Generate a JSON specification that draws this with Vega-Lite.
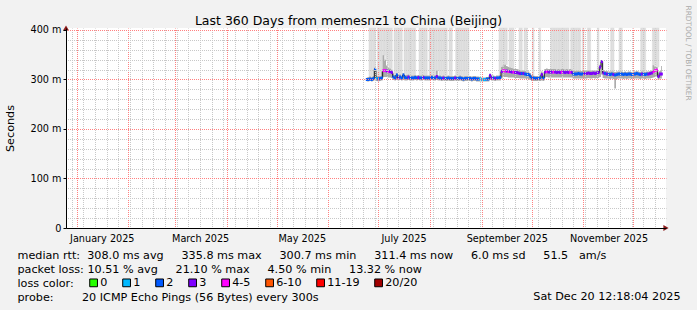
{
"$schema": "https://vega.github.io/schema/vega-lite/v6.json",
"width": 600, "height": 200,
"autosize": {"type": "none"},
"padding": {"left": 66, "top": 28, "right": 31, "bottom": 82},
"background": "#f2f2f2",
"view": {"fill": "#ffffff", "stroke": null},
"config": {
  "font": "DejaVu Sans",
  "axis": {"labelFont": "DejaVu Sans", "titleFont": "DejaVu Sans", "labelColor": "#000000", "titleColor": "#000000", "titleFontWeight": "normal", "labelFontSize": 9.7, "labelOverlap": false, "labelFlush": false},
  "legend": {"labelFont": "DejaVu Sans", "titleFont": "DejaVu Sans"}
},
"resolve": {"axis": {"x": "independent", "y": "independent"}},
"datasets": {"rrd": [
{"t":"2025-06-24","m":300,"lo":296,"hi":304,"l":"2","g":0},
{"t":"2025-06-25","m":300,"lo":296,"hi":305,"l":"2","g":1},
{"t":"2025-06-26","m":301,"lo":297,"hi":306,"l":"2","g":1},
{"t":"2025-06-27","m":300,"lo":296,"hi":305,"l":"2","g":1},
{"t":"2025-06-28","m":302,"lo":297,"hi":307,"l":"2","g":1},
{"t":"2025-06-29","m":320,"lo":300,"hi":324,"l":"2","g":0},
{"t":"2025-06-30","m":302,"lo":297,"hi":307,"l":"1","g":1},
{"t":"2025-07-01","m":301,"lo":296,"hi":306,"l":"2","g":1},
{"t":"2025-07-02","m":302,"lo":297,"hi":307,"l":"2","g":1},
{"t":"2025-07-03","m":303,"lo":298,"hi":316,"l":"2","g":1},
{"t":"2025-07-04","m":318,"lo":305,"hi":349,"l":"4-5","g":1},
{"t":"2025-07-05","m":318,"lo":305,"hi":340,"l":"4-5","g":1},
{"t":"2025-07-06","m":317,"lo":305,"hi":328,"l":"3","g":1},
{"t":"2025-07-07","m":316,"lo":304,"hi":324,"l":"4-5","g":1},
{"t":"2025-07-08","m":316,"lo":304,"hi":322,"l":"3","g":1},
{"t":"2025-07-09","m":314,"lo":303,"hi":320,"l":"3","g":0},
{"t":"2025-07-10","m":305,"lo":299,"hi":312,"l":"2","g":1},
{"t":"2025-07-11","m":303,"lo":298,"hi":309,"l":"2","g":1},
{"t":"2025-07-12","m":309,"lo":300,"hi":313,"l":"2","g":1},
{"t":"2025-07-13","m":303,"lo":298,"hi":309,"l":"3","g":1},
{"t":"2025-07-14","m":305,"lo":299,"hi":310,"l":"2","g":1},
{"t":"2025-07-15","m":303,"lo":298,"hi":308,"l":"2","g":0},
{"t":"2025-07-16","m":309,"lo":299,"hi":313,"l":"2","g":1},
{"t":"2025-07-17","m":304,"lo":298,"hi":309,"l":"2","g":1},
{"t":"2025-07-18","m":303,"lo":298,"hi":309,"l":"2","g":1},
{"t":"2025-07-19","m":305,"lo":299,"hi":310,"l":"3","g":1},
{"t":"2025-07-20","m":303,"lo":298,"hi":308,"l":"2","g":1},
{"t":"2025-07-21","m":303,"lo":298,"hi":308,"l":"2","g":1},
{"t":"2025-07-22","m":303,"lo":298,"hi":308,"l":"2","g":1},
{"t":"2025-07-23","m":304,"lo":299,"hi":309,"l":"2","g":0},
{"t":"2025-07-24","m":303,"lo":298,"hi":308,"l":"2","g":0},
{"t":"2025-07-25","m":304,"lo":299,"hi":309,"l":"3","g":1},
{"t":"2025-07-26","m":303,"lo":298,"hi":308,"l":"2","g":1},
{"t":"2025-07-27","m":303,"lo":298,"hi":308,"l":"2","g":1},
{"t":"2025-07-28","m":304,"lo":299,"hi":309,"l":"3","g":1},
{"t":"2025-07-29","m":303,"lo":298,"hi":308,"l":"2","g":1},
{"t":"2025-07-30","m":303,"lo":298,"hi":308,"l":"2","g":0},
{"t":"2025-07-31","m":303,"lo":298,"hi":308,"l":"2","g":1},
{"t":"2025-08-01","m":303,"lo":298,"hi":308,"l":"2","g":1},
{"t":"2025-08-02","m":304,"lo":299,"hi":309,"l":"2","g":1},
{"t":"2025-08-03","m":303,"lo":298,"hi":308,"l":"2","g":1},
{"t":"2025-08-04","m":303,"lo":298,"hi":308,"l":"2","g":1},
{"t":"2025-08-05","m":306,"lo":299,"hi":318,"l":"3","g":1},
{"t":"2025-08-06","m":303,"lo":298,"hi":308,"l":"2","g":1},
{"t":"2025-08-07","m":303,"lo":298,"hi":308,"l":"2","g":1},
{"t":"2025-08-08","m":302,"lo":297,"hi":307,"l":"2","g":1},
{"t":"2025-08-09","m":303,"lo":298,"hi":308,"l":"3","g":1},
{"t":"2025-08-10","m":302,"lo":297,"hi":307,"l":"2","g":1},
{"t":"2025-08-11","m":302,"lo":297,"hi":307,"l":"2","g":0},
{"t":"2025-08-12","m":303,"lo":298,"hi":308,"l":"2","g":1},
{"t":"2025-08-13","m":302,"lo":297,"hi":307,"l":"2","g":1},
{"t":"2025-08-14","m":302,"lo":297,"hi":307,"l":"2","g":0},
{"t":"2025-08-15","m":302,"lo":297,"hi":307,"l":"2","g":0},
{"t":"2025-08-16","m":303,"lo":298,"hi":308,"l":"3","g":1},
{"t":"2025-08-17","m":302,"lo":297,"hi":307,"l":"2","g":1},
{"t":"2025-08-18","m":302,"lo":297,"hi":307,"l":"2","g":1},
{"t":"2025-08-19","m":303,"lo":298,"hi":308,"l":"2","g":1},
{"t":"2025-08-20","m":302,"lo":297,"hi":307,"l":"2","g":1},
{"t":"2025-08-21","m":301,"lo":296,"hi":306,"l":"2","g":1},
{"t":"2025-08-22","m":302,"lo":297,"hi":307,"l":"2","g":1},
{"t":"2025-08-23","m":302,"lo":297,"hi":307,"l":"2","g":1},
{"t":"2025-08-24","m":302,"lo":297,"hi":307,"l":"2","g":0},
{"t":"2025-08-25","m":302,"lo":297,"hi":307,"l":"2","g":0},
{"t":"2025-08-26","m":301,"lo":296,"hi":306,"l":"2","g":0},
{"t":"2025-08-27","m":302,"lo":297,"hi":307,"l":"2","g":0},
{"t":"2025-08-28","m":302,"lo":297,"hi":307,"l":"2","g":0},
{"t":"2025-08-29","m":301,"lo":296,"hi":306,"l":"2","g":0},
{"t":"2025-08-30","m":301,"lo":296,"hi":306,"l":"2","g":0},
{"t":"2025-08-31","m":301,"lo":296,"hi":305,"l":"1","g":0},
{"t":"2025-09-01","m":300,"lo":296,"hi":304,"l":"1","g":0},
{"t":"2025-09-02","m":300,"lo":296,"hi":304,"l":"1","g":0},
{"t":"2025-09-03","m":300,"lo":296,"hi":304,"l":"1","g":0},
{"t":"2025-09-04","m":301,"lo":296,"hi":305,"l":"2","g":0},
{"t":"2025-09-05","m":301,"lo":296,"hi":305,"l":"2","g":0},
{"t":"2025-09-06","m":308,"lo":299,"hi":312,"l":"3","g":0},
{"t":"2025-09-07","m":303,"lo":298,"hi":308,"l":"3","g":0},
{"t":"2025-09-08","m":303,"lo":298,"hi":308,"l":"2","g":0},
{"t":"2025-09-09","m":302,"lo":297,"hi":307,"l":"3","g":0},
{"t":"2025-09-10","m":303,"lo":298,"hi":308,"l":"2","g":0},
{"t":"2025-09-11","m":303,"lo":298,"hi":308,"l":"2","g":1},
{"t":"2025-09-12","m":304,"lo":298,"hi":309,"l":"2","g":1},
{"t":"2025-09-13","m":316,"lo":302,"hi":325,"l":"3","g":1},
{"t":"2025-09-14","m":318,"lo":305,"hi":328,"l":"4-5","g":1},
{"t":"2025-09-15","m":317,"lo":305,"hi":330,"l":"4-5","g":1},
{"t":"2025-09-16","m":317,"lo":305,"hi":327,"l":"3","g":0},
{"t":"2025-09-17","m":316,"lo":304,"hi":325,"l":"4-5","g":1},
{"t":"2025-09-18","m":316,"lo":304,"hi":324,"l":"3","g":1},
{"t":"2025-09-19","m":315,"lo":304,"hi":323,"l":"3","g":1},
{"t":"2025-09-20","m":315,"lo":304,"hi":322,"l":"4-5","g":0},
{"t":"2025-09-21","m":314,"lo":303,"hi":321,"l":"3","g":0},
{"t":"2025-09-22","m":314,"lo":303,"hi":321,"l":"3","g":0},
{"t":"2025-09-23","m":313,"lo":303,"hi":320,"l":"3","g":1},
{"t":"2025-09-24","m":312,"lo":302,"hi":319,"l":"3","g":1},
{"t":"2025-09-25","m":312,"lo":302,"hi":318,"l":"2","g":0},
{"t":"2025-09-26","m":312,"lo":302,"hi":318,"l":"3","g":1},
{"t":"2025-09-27","m":311,"lo":302,"hi":317,"l":"2","g":1},
{"t":"2025-09-28","m":310,"lo":301,"hi":316,"l":"2","g":0},
{"t":"2025-09-29","m":310,"lo":301,"hi":316,"l":"2","g":0},
{"t":"2025-09-30","m":307,"lo":299,"hi":313,"l":"2","g":0},
{"t":"2025-10-01","m":303,"lo":297,"hi":309,"l":"2","g":1},
{"t":"2025-10-02","m":303,"lo":297,"hi":308,"l":"2","g":0},
{"t":"2025-10-03","m":302,"lo":297,"hi":307,"l":"2","g":0},
{"t":"2025-10-04","m":302,"lo":297,"hi":307,"l":"2","g":0},
{"t":"2025-10-05","m":302,"lo":297,"hi":307,"l":"2","g":1},
{"t":"2025-10-06","m":303,"lo":297,"hi":308,"l":"2","g":0},
{"t":"2025-10-07","m":310,"lo":298,"hi":316,"l":"3","g":0},
{"t":"2025-10-08","m":303,"lo":297,"hi":308,"l":"2","g":0},
{"t":"2025-10-09","m":315,"lo":304,"hi":321,"l":"3","g":0},
{"t":"2025-10-10","m":316,"lo":305,"hi":322,"l":"4-5","g":0},
{"t":"2025-10-11","m":315,"lo":304,"hi":321,"l":"3","g":0},
{"t":"2025-10-12","m":315,"lo":304,"hi":321,"l":"3","g":1},
{"t":"2025-10-13","m":315,"lo":304,"hi":321,"l":"3","g":1},
{"t":"2025-10-14","m":315,"lo":304,"hi":321,"l":"4-5","g":1},
{"t":"2025-10-15","m":315,"lo":304,"hi":321,"l":"3","g":1},
{"t":"2025-10-16","m":314,"lo":304,"hi":320,"l":"3","g":1},
{"t":"2025-10-17","m":315,"lo":304,"hi":321,"l":"3","g":1},
{"t":"2025-10-18","m":314,"lo":304,"hi":320,"l":"3","g":1},
{"t":"2025-10-19","m":315,"lo":304,"hi":321,"l":"4-5","g":1},
{"t":"2025-10-20","m":315,"lo":304,"hi":321,"l":"3","g":1},
{"t":"2025-10-21","m":314,"lo":304,"hi":320,"l":"3","g":1},
{"t":"2025-10-22","m":315,"lo":304,"hi":321,"l":"3","g":1},
{"t":"2025-10-23","m":314,"lo":304,"hi":320,"l":"3","g":0},
{"t":"2025-10-24","m":315,"lo":304,"hi":321,"l":"4-5","g":1},
{"t":"2025-10-25","m":314,"lo":304,"hi":320,"l":"3","g":1},
{"t":"2025-10-26","m":311,"lo":302,"hi":317,"l":"2","g":1},
{"t":"2025-10-27","m":311,"lo":302,"hi":317,"l":"2","g":1},
{"t":"2025-10-28","m":311,"lo":302,"hi":317,"l":"2","g":1},
{"t":"2025-10-29","m":312,"lo":302,"hi":318,"l":"2","g":1},
{"t":"2025-10-30","m":311,"lo":302,"hi":317,"l":"2","g":0},
{"t":"2025-10-31","m":311,"lo":302,"hi":317,"l":"2","g":1},
{"t":"2025-11-01","m":312,"lo":302,"hi":318,"l":"2","g":0},
{"t":"2025-11-02","m":312,"lo":302,"hi":318,"l":"3","g":0},
{"t":"2025-11-03","m":312,"lo":302,"hi":318,"l":"3","g":1},
{"t":"2025-11-04","m":313,"lo":303,"hi":318,"l":"3","g":1},
{"t":"2025-11-05","m":312,"lo":302,"hi":318,"l":"3","g":0},
{"t":"2025-11-06","m":312,"lo":302,"hi":318,"l":"3","g":0},
{"t":"2025-11-07","m":313,"lo":303,"hi":318,"l":"3","g":0},
{"t":"2025-11-08","m":312,"lo":302,"hi":318,"l":"3","g":0},
{"t":"2025-11-09","m":313,"lo":303,"hi":318,"l":"3","g":1},
{"t":"2025-11-10","m":314,"lo":303,"hi":319,"l":"3","g":0},
{"t":"2025-11-11","m":325,"lo":305,"hi":330,"l":"3","g":0},
{"t":"2025-11-12","m":336,"lo":310,"hi":339,"l":"3","g":0},
{"t":"2025-11-13","m":313,"lo":303,"hi":318,"l":"3","g":0},
{"t":"2025-11-14","m":312,"lo":302,"hi":317,"l":"2","g":0},
{"t":"2025-11-15","m":311,"lo":302,"hi":317,"l":"3","g":0},
{"t":"2025-11-16","m":311,"lo":302,"hi":316,"l":"2","g":0},
{"t":"2025-11-17","m":310,"lo":301,"hi":316,"l":"2","g":1},
{"t":"2025-11-18","m":311,"lo":302,"hi":316,"l":"2","g":1},
{"t":"2025-11-19","m":310,"lo":301,"hi":316,"l":"3","g":0},
{"t":"2025-11-20","m":309,"lo":282,"hi":315,"l":"2","g":0},
{"t":"2025-11-21","m":310,"lo":301,"hi":316,"l":"2","g":0},
{"t":"2025-11-22","m":311,"lo":302,"hi":316,"l":"2","g":1},
{"t":"2025-11-23","m":311,"lo":302,"hi":316,"l":"2","g":1},
{"t":"2025-11-24","m":311,"lo":302,"hi":316,"l":"2","g":0},
{"t":"2025-11-25","m":310,"lo":301,"hi":315,"l":"2","g":0},
{"t":"2025-11-26","m":311,"lo":302,"hi":316,"l":"2","g":0},
{"t":"2025-11-27","m":310,"lo":301,"hi":315,"l":"2","g":0},
{"t":"2025-11-28","m":311,"lo":302,"hi":316,"l":"2","g":0},
{"t":"2025-11-29","m":311,"lo":302,"hi":316,"l":"2","g":0},
{"t":"2025-11-30","m":310,"lo":301,"hi":315,"l":"2","g":0},
{"t":"2025-12-01","m":311,"lo":302,"hi":316,"l":"2","g":0},
{"t":"2025-12-02","m":311,"lo":302,"hi":316,"l":"2","g":0},
{"t":"2025-12-03","m":312,"lo":302,"hi":317,"l":"2","g":0},
{"t":"2025-12-04","m":311,"lo":302,"hi":316,"l":"2","g":0},
{"t":"2025-12-05","m":310,"lo":301,"hi":315,"l":"2","g":1},
{"t":"2025-12-06","m":311,"lo":302,"hi":316,"l":"3","g":1},
{"t":"2025-12-07","m":311,"lo":302,"hi":316,"l":"2","g":1},
{"t":"2025-12-08","m":310,"lo":301,"hi":315,"l":"2","g":0},
{"t":"2025-12-09","m":311,"lo":302,"hi":316,"l":"2","g":0},
{"t":"2025-12-10","m":311,"lo":302,"hi":316,"l":"3","g":0},
{"t":"2025-12-11","m":312,"lo":302,"hi":317,"l":"3","g":0},
{"t":"2025-12-12","m":313,"lo":303,"hi":318,"l":"3","g":1},
{"t":"2025-12-13","m":316,"lo":304,"hi":329,"l":"4-5","g":1},
{"t":"2025-12-14","m":318,"lo":305,"hi":326,"l":"4-5","g":1},
{"t":"2025-12-15","m":319,"lo":306,"hi":325,"l":"4-5","g":1},
{"t":"2025-12-16","m":306,"lo":299,"hi":314,"l":"3","g":0},
{"t":"2025-12-17","m":311,"lo":302,"hi":317,"l":"3","g":0},
{"t":"2025-12-18","m":311,"lo":302,"hi":327,"l":"3","g":0}
]},
"data": {"name": "rrd"},
"layer": [
  {
    "transform": [{"filter": "datum.g == 1"}],
    "mark": {"type": "rect", "color": "#dddddd", "stroke": "#dddddd", "strokeWidth": 0.5},
    "encoding": {
      "x": {"field": "t", "type": "temporal", "timeUnit": "yearmonthdate",
            "scale": {"domain": [{"year": 2024, "month": 12, "date": 25, "hours": 12, "minutes": 18, "seconds": 4}, {"year": 2025, "month": 12, "date": 20, "hours": 12, "minutes": 18, "seconds": 4}], "nice": false},
            "axis": {"orient": "bottom", "tickCount": {"interval": "week", "step": 1}, "grid": true, "gridColor": "#c8c8c8", "gridDash": [1, 1], "gridDashOffset": 0.5, "labels": false, "ticks": false, "domain": false, "zindex": 1,
                     "title": "Sat Dec 20 12:18:04 2025", "titleX": 614, "titleY": 71, "titleAlign": "right", "titleAnchor": "end", "titleBaseline": "alphabetic", "titleFontSize": 11.2}},
      "y": {"field": "hi", "type": "quantitative", "scale": {"domain": [0, 404], "nice": false, "zero": true},
            "axis": {"orient": "left", "values": [20, 40, 60, 80, 120, 140, 160, 180, 220, 240, 260, 280, 320, 340, 360, 380], "grid": true, "gridColor": "#c8c8c8", "gridDash": [1, 1], "gridDashOffset": 0.5, "labels": false, "ticks": false, "domain": false, "title": null, "zindex": 1}},
      "y2": {"datum": 404}
    }
  },
  {
    "mark": {"type": "area", "color": "#ababab", "interpolate": "step", "opacity": 1},
    "encoding": {
      "x": {"field": "t", "type": "temporal",
            "axis": {"orient": "bottom", "tickCount": {"interval": "month", "step": 1}, "grid": true, "gridColor": "#ff8080", "gridDash": [1, 1], "gridDashOffset": 0.5, "labels": false, "ticks": false, "domain": false, "title": null, "zindex": 1}},
      "y": {"field": "lo", "type": "quantitative",
            "axis": {"orient": "left", "values": [100, 200, 300, 400], "grid": true, "gridColor": "#ff8080", "gridDash": [1, 1], "gridDashOffset": 0.5, "labels": false, "ticks": false, "domain": false, "title": null, "zindex": 1}},
      "y2": {"field": "hi"}
    }
  },
  {
    "mark": {"type": "line", "color": "#1a1a1a", "strokeWidth": 1, "interpolate": "step"},
    "encoding": {
      "x": {"field": "t", "type": "temporal",
            "axis": {"orient": "bottom", "values": [{"year": 2025, "month": 1, "date": 16}, {"year": 2025, "month": 3, "date": 16}, {"year": 2025, "month": 5, "date": 16}, {"year": 2025, "month": 7, "date": 16}, {"year": 2025, "month": 9, "date": 16}, {"year": 2025, "month": 11, "date": 16}],
                     "format": "%B %Y", "formatType": "time", "grid": false, "ticks": false, "domain": true, "domainColor": "#000000", "domainWidth": 1,
                     "labelPadding": 5, "labelFontSize": 9.7, "zindex": 1,
                     "title": ["median rtt:\u00a0\u00a0308.0 ms avg\u00a0\u00a0\u00a0\u00a0\u00a0335.8 ms max\u00a0\u00a0\u00a0\u00a0\u00a0300.7 ms min\u00a0\u00a0\u00a0\u00a0\u00a0311.4 ms now\u00a0\u00a0\u00a0\u00a0\u00a06.0 ms sd\u00a0\u00a0\u00a0\u00a0\u00a051.5\u00a0\u00a0\u00a0am/s",
                               "packet loss:\u00a010.51 % avg\u00a0\u00a0\u00a0\u00a0\u00a021.10 % max\u00a0\u00a0\u00a0\u00a0\u00a04.50 % min\u00a0\u00a0\u00a0\u00a0\u00a013.32 % now",
                               "loss color:",
                               "probe:\u00a0\u00a0\u00a0\u00a0\u00a0\u00a0\u00a0\u00a020 ICMP Echo Pings (56 Bytes) every 300s"],
                     "titleX": -49, "titleY": 30, "titleAlign": "left", "titleAnchor": "start", "titleBaseline": "alphabetic", "titleFontSize": 11.2, "titleLineHeight": 14, "titleLimit": 2000}},
      "y": {"field": "m", "type": "quantitative",
            "axis": {"orient": "left", "values": [0, 100, 200, 300, 400], "labelExpr": "datum.value == 0 ? '0' : datum.value + ' m'", "grid": false, "ticks": true, "tickSize": 3, "tickColor": "#000000", "domain": true, "domainColor": "#000000", "labelPadding": 2, "labelFontSize": 9.7, "zindex": 1,
                     "title": "Seconds", "titleFontSize": 11.2, "titleX": -56, "titleY": 100, "titleAngle": -90, "titleAlign": "center", "titleBaseline": "middle"}}
    }
  },
  {
    "mark": {"type": "tick", "orient": "horizontal", "size": 2, "thickness": 3, "opacity": 1},
    "encoding": {
      "x": {"field": "t", "type": "temporal",
            "axis": {"orient": "top", "grid": false, "labels": false, "ticks": false, "domain": false, "title": "Last 360 Days from memesnz1 to China (Beijing)", "titleX": 282, "titleY": -4, "titleAlign": "center", "titleAnchor": "middle", "titleBaseline": "alphabetic", "titleFontSize": 12.5}},
      "y": {"field": "m", "type": "quantitative",
            "axis": {"orient": "right", "grid": false, "labels": false, "ticks": false, "domain": false, "title": "RRDTOOL / TOBI OETIKER", "titleAngle": 90, "titleX": 21, "titleY": -23, "titleAlign": "left", "titleBaseline": "middle", "titleFontSize": 7.4, "titleColor": "#aaaaaa"}},
      "color": {"field": "l", "type": "nominal",
                "scale": {"domain": ["0", "1", "2", "3", "4-5", "6-10", "11-19", "20/20"], "range": ["#26ff00", "#00b8ff", "#0059ff", "#7e00ff", "#ff00ff", "#ff5500", "#ff0000", "#a10000"]},
                "legend": {"title": null, "orient": "none", "legendX": 22, "legendY": 249, "direction": "horizontal",
                           "labelFontSize": 11.2, "labelColor": "#000000", "labelOffset": 1, "columnPadding": 12, "symbolType": "square", "symbolSize": 60, "symbolStrokeColor": "#000000", "symbolStrokeWidth": 1, "symbolOpacity": 1, "padding": 0}}
    }
  },
  {
    "data": {"values": [{}]},
    "mark": {"type": "point", "shape": "triangle-right", "filled": true, "size": 36, "color": "#8b1a1a", "opacity": 1},
    "encoding": {
      "x": {"datum": {"year": 2025, "month": 12, "date": 20, "hours": 12, "minutes": 18, "seconds": 4}, "type": "temporal", "axis": null},
      "y": {"datum": 0, "type": "quantitative", "axis": null}
    }
  },
  {
    "data": {"values": [{}]},
    "mark": {"type": "point", "shape": "triangle-up", "filled": true, "size": 36, "color": "#8b1a1a", "opacity": 1},
    "encoding": {
      "x": {"datum": {"year": 2024, "month": 12, "date": 25, "hours": 12, "minutes": 18, "seconds": 4}, "type": "temporal", "axis": null},
      "y": {"datum": 404, "type": "quantitative", "axis": null}
    }
  }
]
}
